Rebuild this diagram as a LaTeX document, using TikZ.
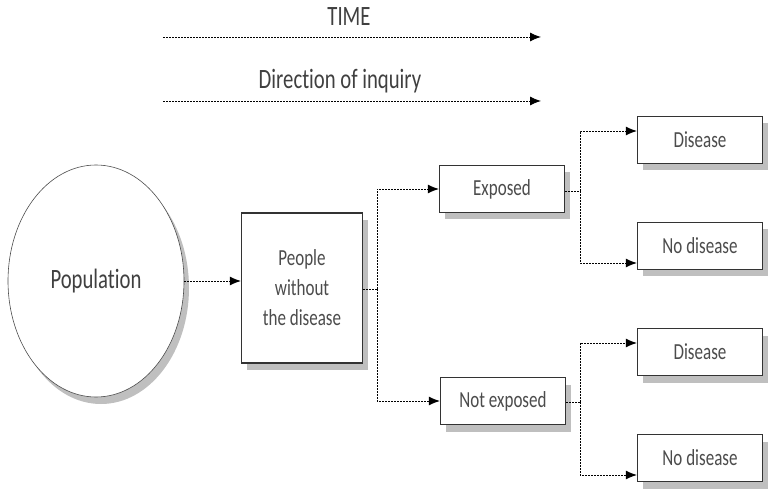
\documentclass[tikz,border=0pt]{standalone}
\usepackage{fontspec}
\setmainfont[FakeStretch=0.74,Ligatures={NoCommon,NoRare}]{Carlito}
\usepackage{tikz}
\usetikzlibrary{shapes.geometric,arrows.meta,shadows}

\begin{document}
\begin{tikzpicture}[x=1pt,y=-1pt,
	font=\fontsize{23}{30}\selectfont,
	shade/.style={drop shadow={shadow xshift=5pt,shadow yshift=-7pt,fill=black!25,opacity=1}},
	stepbox/.style={draw=black!80,line width=1.3pt,fill=white,shade,minimum width=125pt,minimum height=47pt,inner sep=0pt,text=black!70},
	flow/.style={dash pattern=on 2pt off 1pt,line width=0.9pt,-{Latex[length=11pt,width=9pt]}},
	link/.style={dash pattern=on 2pt off 1pt,line width=0.9pt}]
	\useasboundingbox (0,0) rectangle (776,494);

	% time lines on top
	\coordinate (t0) at (163,37);  \coordinate (t1) at (541,37);
	\coordinate (d0) at (163,101); \coordinate (d1) at (541,101);
	\node[text=black!75,font=\fontsize{28}{32}\selectfont] (time) at (349,17) {TIME};
	\node[text=black!75,font=\fontsize{28}{32}\selectfont] (inq) at (340,81) {Direction of inquiry};
	\draw[flow] (t0) -- (t1);
	\draw[flow] (d0) -- (d1);

	% population and cohort
	\node[ellipse,draw=black!70,line width=0.6pt,fill=white,shade,minimum width=176pt,minimum height=232pt,text=black!75,font=\fontsize{28}{32}\selectfont] (pop) at (96,281) {Population};
	\node[stepbox,minimum width=121pt,minimum height=150pt,align=center] (people) at (302,288) {People\\without\\the disease};
	\draw[flow] (pop.east) -- (people.west |- pop.east);

	% exposure groups
	\node[stepbox] (exp) at (502,189) {Exposed};
	\node[stepbox] (nexp) at (503,401) {Not exposed};
	\coordinate (j0) at (377,289);
	\draw[link] (people.east |- j0) -- (j0);
	\draw[flow] (j0) |- (exp.west);
	\draw[flow] (j0) |- (nexp.west);

	% outcomes
	\node[stepbox] (dis1) at (700,140) {Disease};
	\node[stepbox] (nod1) at (700,246) {No disease};
	\node[stepbox] (dis2) at (700,352) {Disease};
	\node[stepbox] (nod2) at (700,458) {No disease};
	\coordinate (j1) at (580,191);
	\coordinate (j2) at (580,402);
	\draw[link] (exp.east |- j1) -- (j1);
	\draw[flow] (j1) |- ([yshift=9pt]dis1.west);
	\draw[flow] (j1) |- ([yshift=-17pt]nod1.west);
	\draw[link] (nexp.east |- j2) -- (j2);
	\draw[flow] (j2) |- ([yshift=9pt]dis2.west);
	\draw[flow] (j2) |- ([yshift=-17pt]nod2.west);
\end{tikzpicture}
\end{document}
